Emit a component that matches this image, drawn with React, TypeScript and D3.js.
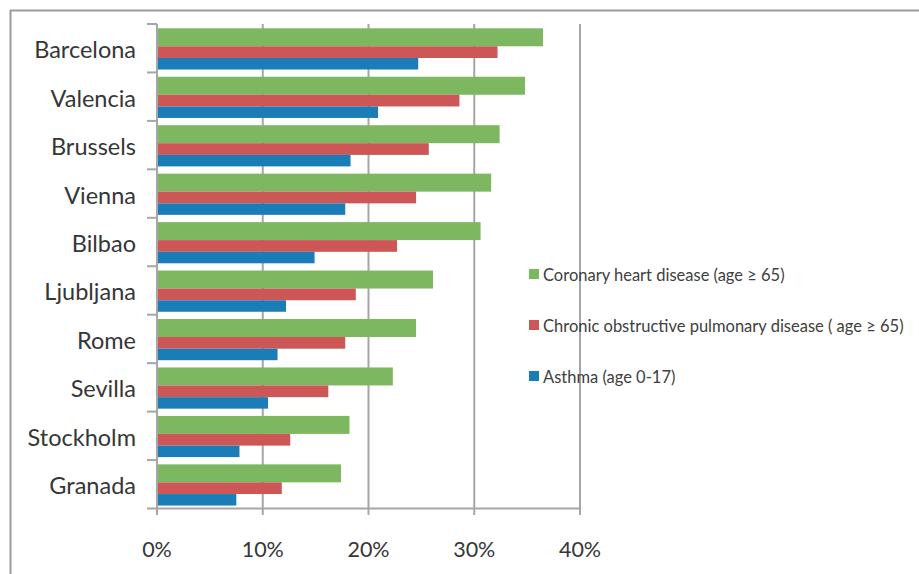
import React from "react";
import * as d3 from "d3";

const cities = ["Barcelona", "Valencia", "Brussels", "Vienna", "Bilbao", "Ljubljana", "Rome", "Sevilla", "Stockholm", "Granada"];
const coronary = [36.5, 34.8, 32.4, 31.6, 30.6, 26.1, 24.5, 22.3, 18.2, 17.4];
const copd = [32.2, 28.6, 25.7, 24.5, 22.7, 18.8, 17.8, 16.2, 12.6, 11.8];
const asthma = [24.7, 20.9, 18.3, 17.8, 14.9, 12.2, 11.4, 10.5, 7.8, 7.5];
const xTicks = [0, 10, 20, 30, 40];
const seriesNames = [
  "Coronary heart disease (age \u2265 65)",
  "Chronic obstructive pulmonary disease ( age \u2265 65)",
  "Asthma (age 0-17)",
];
const colors = ["#7db860", "#cd5656", "#1b7db8"];

export default function App() {
  const W = 919, H = 574;
  const x = d3.scaleLinear().domain([0, 40]).range([157, 580]);
  const y = d3.scaleBand<string>().domain(cities).range([24, 508.5]).padding(0);
  const grid = "#a6a6a6";
  const font = "Lato, 'Open Sans', sans-serif";
  const textColor = "#363636";
  const series = [coronary, copd, asthma];
  const offs = [4.3, 22.3, 34.0];
  const hs = [18, 11.7, 11.5];
  return (
    <svg width={W} height={H} style={{ position: "absolute", left: 0, top: 0, background: "#fff" }}>
      <rect x={0} y={0} width={W} height={H} fill="#fff" />
      <line x1={10} x2={W + 5} y1={10.5} y2={10.5} stroke="#9a9a9a" strokeWidth={2} />
      <line x1={10.5} x2={10.5} y1={10} y2={H + 5} stroke="#9a9a9a" strokeWidth={2} />
      {xTicks.slice(1).map((t) => (
        <line key={"g" + t} x1={x(t)} x2={x(t)} y1={24} y2={515} stroke={grid} strokeWidth={2} />
      ))}
      {cities.map((c, i) => (
        <g key={c}>
          {series.map((s, k) => (
            <rect
              key={k}
              x={x(0)}
              y={(y(c) as number) + offs[k]}
              width={x(s[i]) - x(0)}
              height={hs[k]}
              fill={colors[k]}
            />
          ))}
        </g>
      ))}
      <line x1={x(0)} x2={x(0)} y1={24} y2={515} stroke={grid} strokeWidth={2} />
      <line x1={147} x2={x(40)} y1={508.5} y2={508.5} stroke={grid} strokeWidth={2} />
      {cities.map((c) => (
        <line key={"t" + c} x1={147} x2={x(0)} y1={y(c) as number} y2={y(c) as number} stroke={grid} strokeWidth={2} />
      ))}
      {cities.map((c) => (
        <text
          key={"l" + c}
          x={136}
          y={(y(c) as number) + y.bandwidth() / 2 + 1}
          textAnchor="end"
          dominantBaseline="central"
          fontFamily={font}
          fontSize={23.5}
          fill={textColor}
        >
          {c}
        </text>
      ))}
      {xTicks.map((t) => (
        <text
          key={"x" + t}
          x={x(t)}
          y={549}
          textAnchor="middle"
          dominantBaseline="central"
          fontFamily={font}
          fontSize={21.5}
          fill={textColor}
        >
          {t + "%"}
        </text>
      ))}
      {seriesNames.map((n, k) => (
        <g key={"lg" + k} transform={`translate(529, ${274 + k * 51})`}>
          <rect x={0} y={-5} width={10} height={10} fill={colors[k]} />
          <text x={14} y={0.5} dominantBaseline="central" fontFamily={font} fontSize={16.5} fill="#404040">
            {n}
          </text>
        </g>
      ))}
    </svg>
  );
}
